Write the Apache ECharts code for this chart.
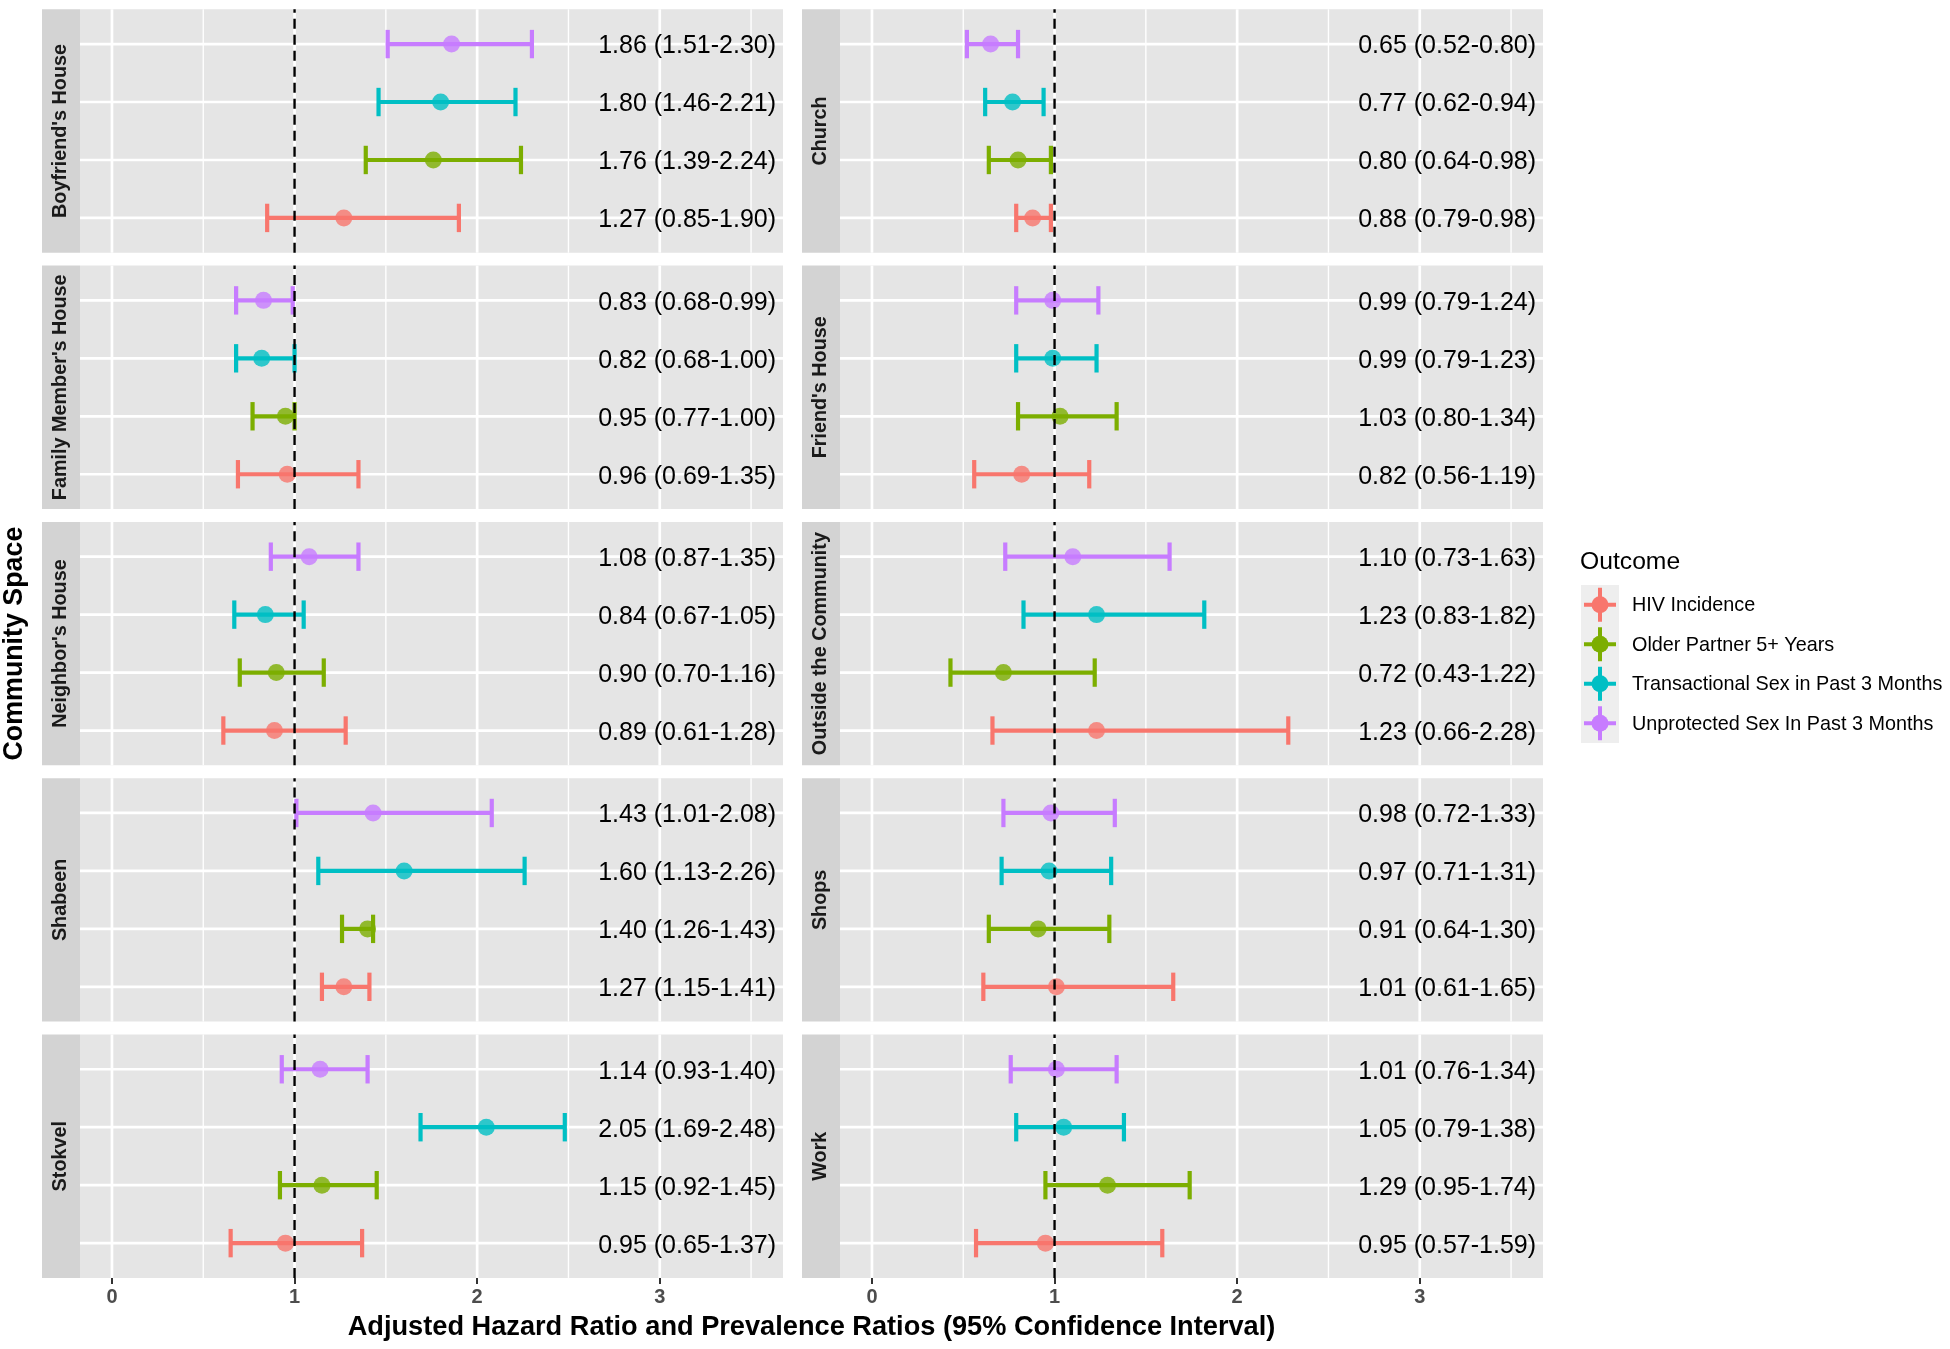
<!DOCTYPE html>
<html><head><meta charset="utf-8">
<script src="https://cdn.jsdelivr.net/npm/echarts@6/dist/echarts.min.js"></script>
<style>html,body{margin:0;padding:0;background:#fff}#c{width:1950px;height:1349px}</style>
</head><body><div id="c"></div>
<script>
// ---------------- data ----------------
const panels = ["Boyfriend's House","Church","Family Member's House","Friend's House","Neighbor's House","Outside the Community","Shabeen","Shops","Stokvel","Work"];
const outcomes = ["HIV Incidence","Older Partner 5+ Years","Transactional Sex in Past 3 Months","Unprotected Sex In Past 3 Months"];
const outcomeColors = ["#F8766D","#7CAE00","#00BFC4","#C77CFF"];
const hivEst   = [1.27,0.88,0.96,0.82,0.89,1.23,1.27,1.01,0.95,0.95];
const hivLo    = [0.85,0.79,0.69,0.56,0.61,0.66,1.15,0.61,0.65,0.57];
const hivHi    = [1.90,0.98,1.35,1.19,1.28,2.28,1.41,1.65,1.37,1.59];
const olderEst = [1.76,0.80,0.95,1.03,0.90,0.72,1.40,0.91,1.15,1.29];
const olderLo  = [1.39,0.64,0.77,0.80,0.70,0.43,1.26,0.64,0.92,0.95];
const olderHi  = [2.24,0.98,1.00,1.34,1.16,1.22,1.43,1.30,1.45,1.74];
const transEst = [1.80,0.77,0.82,0.99,0.84,1.23,1.60,0.97,2.05,1.05];
const transLo  = [1.46,0.62,0.68,0.79,0.67,0.83,1.13,0.71,1.69,0.79];
const transHi  = [2.21,0.94,1.00,1.23,1.05,1.82,2.26,1.31,2.48,1.38];
const unprotEst= [1.86,0.65,0.83,0.99,1.08,1.10,1.43,0.98,1.14,1.01];
const unprotLo = [1.51,0.52,0.68,0.79,0.87,0.73,1.01,0.72,0.93,0.76];
const unprotHi = [2.30,0.80,0.99,1.24,1.35,1.63,2.08,1.33,1.40,1.34];
const xTicks = [0,1,2,3];
const xMinorTicks = [0.5,1.5,2.5,3.5];
const refValue = 1;
const labelXValue = 3.15;
const xTitle = "Adjusted Hazard Ratio and Prevalence Ratios (95% Confidence Interval)";
const yTitle = "Community Space";
const legendTitle = "Outcome";

// ---------------- layout ----------------
const FONT = "'Liberation Sans', Arial, Helvetica, sans-serif";
const PANEL_W = 703, PANEL_H = 243.4, STRIP_W = 38;
const COL_LEFT = [80, 840];
const ROW_TOP0 = 9.3, ROW_PITCH = 256.3;
const X_MIN = -0.175, X_MAX = 3.675, Y_MIN = 0.4, Y_MAX = 4.6;
const NROW = 5;

const est = [hivEst, olderEst, transEst, unprotEst];
const lo  = [hivLo, olderLo, transLo, unprotLo];
const hi  = [hivHi, olderHi, transHi, unprotHi];
const fmt = v => v.toFixed(2);

const grids = [], xAxes = [], yAxes = [], series = [], graphics = [];

panels.forEach((name, p) => {
  const col = p % 2, row = Math.floor(p / 2);
  const left = COL_LEFT[col], top = ROW_TOP0 + row * ROW_PITCH;
  const bottom = row === NROW - 1;
  grids.push({left, top, width: PANEL_W, height: PANEL_H, show: true,
    backgroundColor: '#E5E5E5', borderWidth: 0, containLabel: false});
  xAxes.push({type: 'value', gridIndex: p, min: X_MIN, max: X_MAX,
    splitLine: {show: false}, axisLine: {show: false},
    axisTick: {show: bottom, customValues: xTicks, length: 6, lineStyle: {color: '#333333', width: 2}},
    axisLabel: {show: bottom, customValues: xTicks, color: '#4D4D4D', fontWeight: 'bold',
      fontSize: 20, fontFamily: FONT, margin: 10}});
  yAxes.push({type: 'value', gridIndex: p, min: Y_MIN, max: Y_MAX, show: false});

  // gridlines
  const gl = [];
  xTicks.forEach(v => gl.push([0, v, 1]));
  xMinorTicks.forEach(v => gl.push([0, v, 0]));
  outcomes.forEach((o, k) => gl.push([1, k + 1, 1]));
  series.push({type: 'custom', xAxisIndex: p, yAxisIndex: p, z: 1, silent: true,
    data: gl,
    renderItem: (params, api) => {
      const o = api.value(0), v = api.value(1), major = api.value(2);
      const a = o === 0 ? api.coord([v, Y_MIN]) : api.coord([X_MIN, v]);
      const b = o === 0 ? api.coord([v, Y_MAX]) : api.coord([X_MAX, v]);
      return {type: 'line', shape: {x1: a[0], y1: a[1], x2: b[0], y2: b[1]},
        style: {stroke: '#FFFFFF', lineWidth: major ? 2.7 : 1.35}};
    }});

  // error bars
  series.push({type: 'custom', xAxisIndex: p, yAxisIndex: p, z: 2, silent: true,
    data: outcomes.map((o, k) => [lo[k][p], hi[k][p], k + 1, k]),
    renderItem: (params, api) => {
      const l = api.value(0), h = api.value(1), y = api.value(2), k = api.value(3);
      const a = api.coord([l, y]), b = api.coord([h, y]);
      const yt = api.coord([l, y + 0.245])[1], yb = api.coord([l, y - 0.245])[1];
      const st = {stroke: outcomeColors[k], lineWidth: 4.2};
      return {type: 'group', children: [
        {type: 'line', shape: {x1: a[0], y1: a[1], x2: b[0], y2: b[1]}, style: st},
        {type: 'line', shape: {x1: a[0], y1: yt, x2: a[0], y2: yb}, style: st},
        {type: 'line', shape: {x1: b[0], y1: yt, x2: b[0], y2: yb}, style: st}
      ]};
    }});

  // points
  series.push({type: 'scatter', xAxisIndex: p, yAxisIndex: p, z: 3, silent: true,
    symbol: 'circle', symbolSize: 17,
    data: outcomes.map((o, k) => ({value: [est[k][p], k + 1], itemStyle: {color: outcomeColors[k]}}))});

  // reference line
  series.push({type: 'custom', xAxisIndex: p, yAxisIndex: p, z: 4, silent: true,
    data: [[refValue]],
    renderItem: (params, api) => {
      const a = api.coord([api.value(0), Y_MIN]), b = api.coord([api.value(0), Y_MAX]);
      return {type: 'line', shape: {x1: a[0], y1: a[1], x2: b[0], y2: b[1]},
        style: {stroke: '#000000', lineWidth: 2.4, lineDash: [10, 6]}};
    }});

  // value labels
  series.push({type: 'custom', xAxisIndex: p, yAxisIndex: p, z: 4, silent: true,
    data: outcomes.map((o, k) => [labelXValue, k + 1, est[k][p], lo[k][p], hi[k][p]]),
    renderItem: (params, api) => {
      const c = api.coord([api.value(0), api.value(1)]);
      return {type: 'text', x: c[0], y: c[1] + 2.5, style: {
        text: fmt(api.value(2)) + ' (' + fmt(api.value(3)) + '-' + fmt(api.value(4)) + ')',
        fill: '#000000', fontSize: 25, fontFamily: FONT, align: 'center', verticalAlign: 'middle'}};
    }});

  // strip
  graphics.push({type: 'rect', left: left - STRIP_W, top, shape: {width: STRIP_W, height: PANEL_H},
    style: {fill: '#D3D3D3'}, silent: true});
  graphics.push({type: 'text', x: left - STRIP_W / 2, y: top + PANEL_H / 2, rotation: Math.PI / 2,
    style: {text: name, fill: '#1A1A1A', fontSize: 19.8, fontWeight: 'bold', fontFamily: FONT,
      align: 'center', verticalAlign: 'middle'}, silent: true});
});

// axis titles
graphics.push({type: 'text', x: (COL_LEFT[0] + COL_LEFT[1] + PANEL_W) / 2, y: 1328,
  style: {text: xTitle, fill: '#000', fontSize: 27.2, fontWeight: 'bold', fontFamily: FONT,
    align: 'center', verticalAlign: 'middle'}});
graphics.push({type: 'text', x: 15, y: ROW_TOP0 + ((NROW - 1) * ROW_PITCH + PANEL_H) / 2, rotation: Math.PI / 2,
  style: {text: yTitle, fill: '#000', fontSize: 26.8, fontWeight: 'bold', fontFamily: FONT,
    align: 'center', verticalAlign: 'middle'}});

// legend
const LEG_X = 1581, LEG_Y = 585, KEY = 39.5;
graphics.push({type: 'text', x: 1580, y: 562, style: {text: legendTitle, fill: '#000', fontSize: 24.7,
  fontFamily: FONT, align: 'left', verticalAlign: 'middle'}});
graphics.push({type: 'rect', left: LEG_X, top: LEG_Y, shape: {width: 38, height: KEY * outcomes.length},
  style: {fill: '#EEEEEE'}});
outcomes.forEach((o, k) => {
  const cx = LEG_X + 19, cy = LEG_Y + KEY * k + KEY / 2;
  graphics.push({type: 'line', shape: {x1: cx - 16, y1: cy, x2: cx + 16, y2: cy}, style: {stroke: outcomeColors[k], lineWidth: 4}});
  graphics.push({type: 'line', shape: {x1: cx, y1: cy - 17, x2: cx, y2: cy + 17}, style: {stroke: outcomeColors[k], lineWidth: 4}});
  graphics.push({type: 'circle', shape: {cx, cy, r: 8.5}, style: {fill: outcomeColors[k]}});
  graphics.push({type: 'text', x: 1632, y: cy + 1, style: {text: o, fill: '#000', fontSize: 19.8, fontFamily: FONT,
    align: 'left', verticalAlign: 'middle'}});
});

const chart = echarts.init(document.getElementById('c'), null, {renderer: 'canvas'});
chart.setOption({
  animation: false,
  backgroundColor: '#FFFFFF',
  grid: grids, xAxis: xAxes, yAxis: yAxes, series,
  graphic: {elements: graphics}
});
</script>
</body></html>
